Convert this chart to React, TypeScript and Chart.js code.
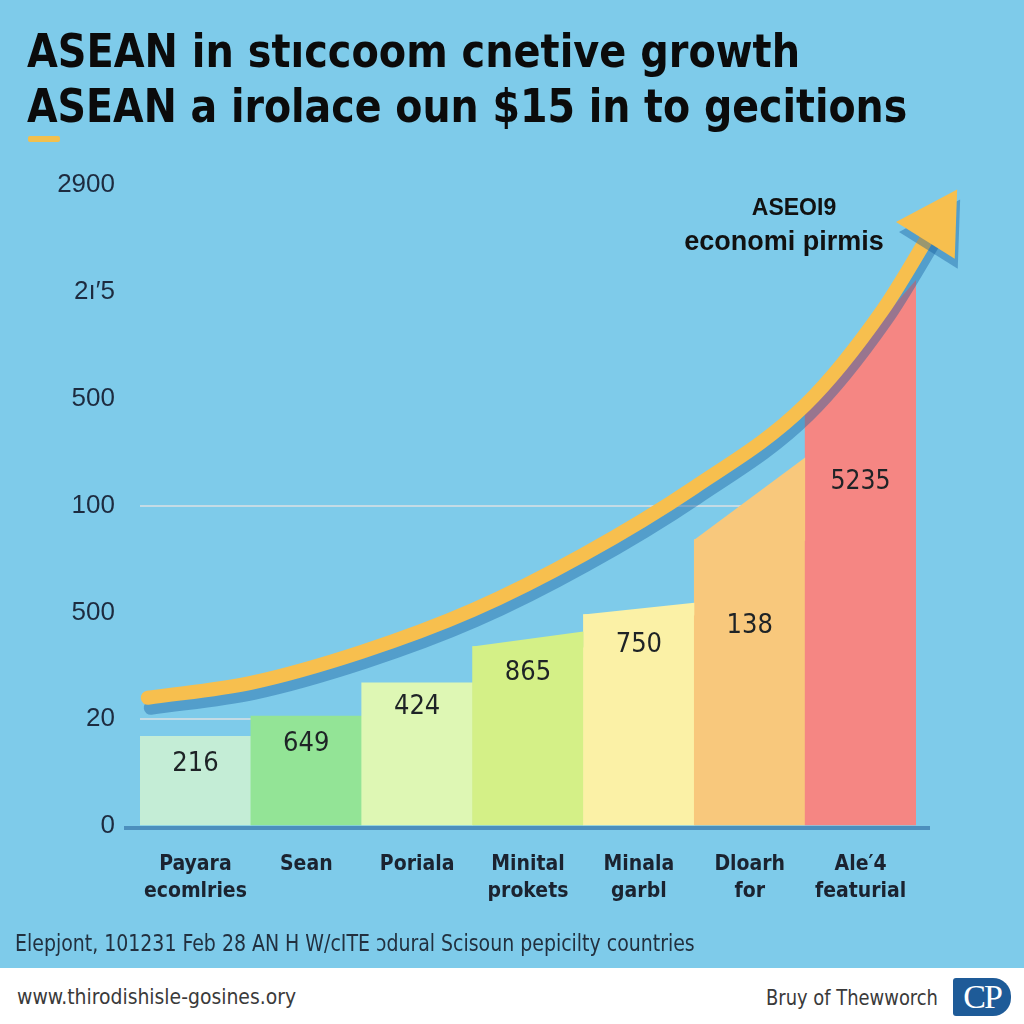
import React, { useEffect, useRef } from "react";
import { Chart, registerables } from "chart.js";

Chart.register(...registerables);

// ---------- data ----------
const categories: string[][] = [
  ["Payara", "ecomlries"],
  ["Sean"],
  ["Poriala"],
  ["Minital", "prokets"],
  ["Minala", "garbl"],
  ["Dloarh", "for"],
  ["Ale\u20324", "featurial"],
];
const barLeft = [0.84, 1.03, 1.34, 1.68, 1.98, 2.68, 3.92];
const barRight = [0.84, 1.03, 1.34, 1.82, 2.09, 3.45, 5.11];
const valueLabels = ["216", "649", "424", "865", "750", "138", "5235"];
const valueLabelLevel = [0.58, 0.77, 1.11, 1.43, 1.69, 1.87, 3.22];
const yTickLabels = ["0", "20", "500", "100", "500", "2\u0131\u20325", "2900"];
const trendX = [0.07, 1, 2, 3, 4, 5, 6, 6.7, 7.18];
const trendY = [1.2, 1.34, 1.63, 2.02, 2.54, 3.17, 3.94, 4.83, 5.64];
const barColors = ["#C4EDD6", "#93E496", "#DEF7B4", "#D4F087", "#FBF1A6", "#F8C87C", "#F58683"];

const titleLines = [
  "ASEAN in st\u0131ccoom cnetive growth",
  "ASEAN a irolace oun $15 in to gecitions",
];
const noteLines = ["ASEOI9", "economi pirmis"];
const sourceText = "Elepjont, 101231 Feb 28 AN H W/cITE \u0254dural Scisoun pepicilty countries";
const siteText = "www.thirodishisle-gosines.ory";
const brandText = "Bruy of Thewworch";

const YELLOW = "#F7BF4E";
const NARROW = '"Liberation Sans Narrow", "DejaVu Sans Condensed", "Liberation Sans", sans-serif';
const SANS = '"Liberation Sans", Arial, sans-serif';

export default function App() {
  const canvasRef = useRef<HTMLCanvasElement | null>(null);

  useEffect(() => {
    document.body.style.margin = "0";
    const canvas = canvasRef.current!;

    const shadowPlugin = {
      id: "trendShadow",
      beforeDatasetDraw(chart: any, args: any) {
        if (chart.data.datasets[args.index].type === "line") {
          const ctx = chart.ctx;
          ctx.save();
          ctx.shadowColor = "rgba(25,95,160,0.42)";
          ctx.shadowOffsetX = 3;
          ctx.shadowOffsetY = 10;
          ctx.shadowBlur = 0;
        }
      },
      afterDatasetDraw(chart: any, args: any) {
        if (chart.data.datasets[args.index].type === "line") {
          chart.ctx.restore();
        }
      },
    };

    const barExtrasPlugin = {
      id: "barExtras",
      beforeDatasetsDraw(chart: any) {
        const ctx = chart.ctx;
        const a = chart.chartArea;
        ctx.save();
        ctx.strokeStyle = "#4C8FBD";
        ctx.lineWidth = 4;
        ctx.beginPath();
        ctx.moveTo(a.left - 16, a.bottom + 2);
        ctx.lineTo(a.right + 14, a.bottom + 2);
        ctx.stroke();
        ctx.restore();
      },
      afterDatasetDraw(chart: any, args: any) {
        if (chart.data.datasets[args.index].type !== "bar") return;
        const ctx = chart.ctx;
        const ys = chart.scales.y;
        const meta = chart.getDatasetMeta(args.index);
        ctx.save();
        meta.data.forEach((bar: any, i: number) => {
          const { x, width } = bar.getProps(["x", "width"], true);
          const xl = x - width / 2;
          const xr = x + width / 2;
          if (barRight[i] !== barLeft[i]) {
            const yL = ys.getPixelForValue(barLeft[i]);
            const yR = ys.getPixelForValue(barRight[i]);
            ctx.fillStyle = barColors[i];
            ctx.beginPath();
            ctx.moveTo(xl, yL + 1);
            ctx.lineTo(xl, yL);
            ctx.lineTo(xr, yR);
            ctx.lineTo(xr, yL + 1);
            ctx.closePath();
            ctx.fill();
          }
          ctx.fillStyle = "#1E2326";
          ctx.font = `27px ${NARROW}`;
          ctx.textAlign = "center";
          ctx.textBaseline = "middle";
          ctx.fillText(valueLabels[i], x, ys.getPixelForValue(valueLabelLevel[i]), 60);
        });
        ctx.restore();
      },
    };

    const chart = new Chart(canvas, {
      type: "bar",
      data: {
        labels: categories as any,
        datasets: [
          {
            type: "line",
            xAxisID: "x2",
            data: trendX.map((x, i) => ({ x, y: trendY[i] })),
            borderColor: YELLOW,
            backgroundColor: YELLOW,
            borderWidth: 14,
            borderCapStyle: "round",
            cubicInterpolationMode: "monotone",
            pointRadius: (c: any) => (c.dataIndex === trendX.length - 1 ? 40 : 0),
            pointHoverRadius: (c: any) => (c.dataIndex === trendX.length - 1 ? 40 : 0),
            pointStyle: "triangle",
            pointRotation: 32,
            pointBackgroundColor: YELLOW,
            pointBorderWidth: 0,
            clip: false,
            order: 0,
          } as any,
          {
            type: "bar",
            data: barLeft,
            backgroundColor: barColors,
            borderWidth: 0,
            barPercentage: 1,
            categoryPercentage: 1,
            grouped: false,
            order: 1,
          } as any,
        ],
      },
      options: {
        animation: false,
        responsive: false,
        events: [],
        layout: { padding: { left: 0, right: 108, top: 185, bottom: 0 } },
        plugins: { legend: { display: false }, tooltip: { enabled: false }, title: { display: false } },
        scales: {
          x: {
            type: "category",
            offset: true,
            grid: { display: false },
            border: { display: false },
            ticks: {
              color: "#1B2330",
              font: { family: NARROW, size: 21, weight: "bold", lineHeight: 1.28 },
              padding: 17,
              maxRotation: 0,
              autoSkip: false,
            },
            afterFit: (s: any) => {
              s.height = 114;
            },
          },
          x2: { type: "linear", display: false, offset: false, min: 0, max: 7, grid: { offset: false } },
          y: {
            min: 0,
            max: 6,
            border: { display: false },
            grid: {
              drawTicks: false,
              lineWidth: 2,
              color: (c: any) =>
                c.tick && (c.tick.value === 1 || c.tick.value === 3) ? "rgba(214,222,228,0.8)" : "rgba(0,0,0,0)",
            },
            ticks: {
              stepSize: 1,
              padding: 25,
              color: "#1D2B3F",
              font: { family: SANS, size: 26 },
              callback: (v: any) => yTickLabels[Math.round(Number(v))] ?? "",
            },
            afterFit: (s: any) => {
              s.width = 140;
            },
          },
        },
      } as any,
      plugins: [shadowPlugin, barExtrasPlugin],
    });
    return () => chart.destroy();
  }, []);

  const abs = (o: React.CSSProperties): React.CSSProperties => ({ position: "absolute", whiteSpace: "nowrap", ...o });

  return (
    <div
      style={{
        position: "fixed",
        left: 0,
        top: 0,
        width: 1024,
        height: 1024,
        overflow: "hidden",
        background: "#7ECBEA",
        fontFamily: SANS,
      }}
    >
      <canvas ref={canvasRef} width={1024} height={940} style={{ position: "absolute", left: 0, top: 0, width: 1024, height: 940 }} />

      <div style={abs({ left: 27, top: 28, fontFamily: NARROW, fontWeight: 700, fontSize: 46, lineHeight: "46px", color: "#0B0B0B", transform: "scaleX(0.963)", transformOrigin: "left center" })}>
        {titleLines[0]}
      </div>
      <div style={abs({ left: 27, top: 83, fontFamily: NARROW, fontWeight: 700, fontSize: 46, lineHeight: "46px", color: "#0B0B0B", transform: "scaleX(0.955)", transformOrigin: "left center" })}>
        {titleLines[1]}
      </div>
      <div style={abs({ left: 28, top: 136, width: 32, height: 6, borderRadius: 2, background: "#F2C04E" })} />

      <div style={abs({ left: 694, width: 200, top: 194, textAlign: "center", fontWeight: 700, fontSize: 23, lineHeight: "26px", color: "#111" })}>
        {noteLines[0]}
      </div>
      <div style={abs({ left: 634, width: 300, top: 226, textAlign: "center", fontWeight: 700, fontSize: 27, lineHeight: "30px", color: "#111" })}>
        {noteLines[1]}
      </div>

      <div style={abs({ left: 15, top: 929, fontFamily: NARROW, fontSize: 23, lineHeight: "28px", color: "#22303F", transform: "scaleX(0.915)", transformOrigin: "left center" })}>
        {sourceText}
      </div>

      <div style={abs({ left: 0, top: 968, width: 1024, height: 56, background: "#FFFFFF" })} />
      <div style={abs({ left: 17, top: 983, fontFamily: NARROW, fontSize: 22, lineHeight: "28px", color: "#3A3A3A", transform: "scaleX(0.95)", transformOrigin: "left center" })}>
        {siteText}
      </div>
      <div style={abs({ right: 86, top: 984, fontFamily: NARROW, fontSize: 22, lineHeight: "28px", color: "#3A3A3A", transform: "scaleX(0.905)", transformOrigin: "right center" })}>
        {brandText}
      </div>
      <div
        style={abs({
          left: 953,
          top: 978,
          width: 58,
          height: 38,
          background: "#1E5B98",
          borderRadius: "3px 18px 18px 3px",
          color: "#FFFFFF",
          fontFamily: '"Liberation Serif", "DejaVu Serif", serif',
          fontSize: 34,
          lineHeight: "38px",
          textAlign: "center",
          letterSpacing: -2,
        })}
      >
        CP
      </div>
    </div>
  );
}
